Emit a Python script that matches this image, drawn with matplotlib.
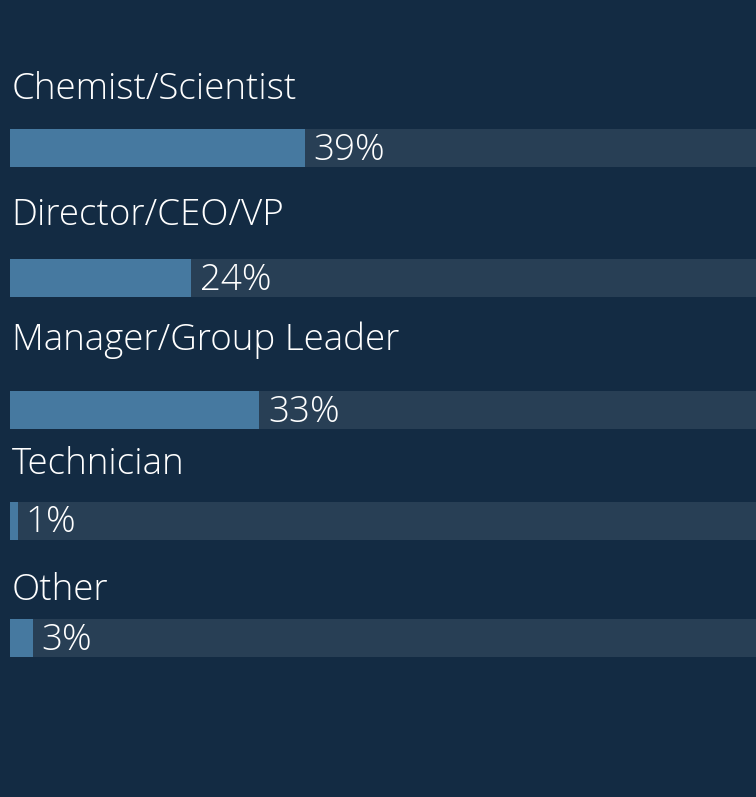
import matplotlib
matplotlib.use('Agg')
import matplotlib.pyplot as plt

categories = ['Chemist/Scientist', 'Director/CEO/VP', 'Manager/Group Leader', 'Technician', 'Other']
values = [39, 24, 33, 1, 3]

# layout (pixel rows in a 797 px tall figure)
bar_y = [148, 278, 410, 521, 638]
label_y = [89, 215, 340, 464, 590]

bg = '#132b43'
track = '#283f55'
fill = '#4679a0'

fig = plt.figure(figsize=(7.56, 7.97), dpi=100)
fig.patch.set_facecolor(bg)
ax = fig.add_axes([10 / 756, 0, 756 / 756, 1])
ax.set_facecolor(bg)
ax.set_xlim(0, 100)
ax.set_ylim(797, 0)
ax.axis('off')

font = dict(family=['Open Sans', 'DejaVu Sans'], fontweight='light', color='white', fontsize=26.5)

ax.barh(bar_y, [100] * len(values), height=38, color=track, left=0)
ax.barh(bar_y, values, height=38, color=fill, left=0)

for cat, v, by, ly in zip(categories, values, bar_y, label_y):
    ax.text(0.2, ly, cat, ha='left', va='center', **font)
    ax.annotate(f'{v}%', (v, by + 2), xytext=(6, 0), textcoords='offset points',
                ha='left', va='center', **font)

fig.savefig('out.png', dpi=100, facecolor=bg)
